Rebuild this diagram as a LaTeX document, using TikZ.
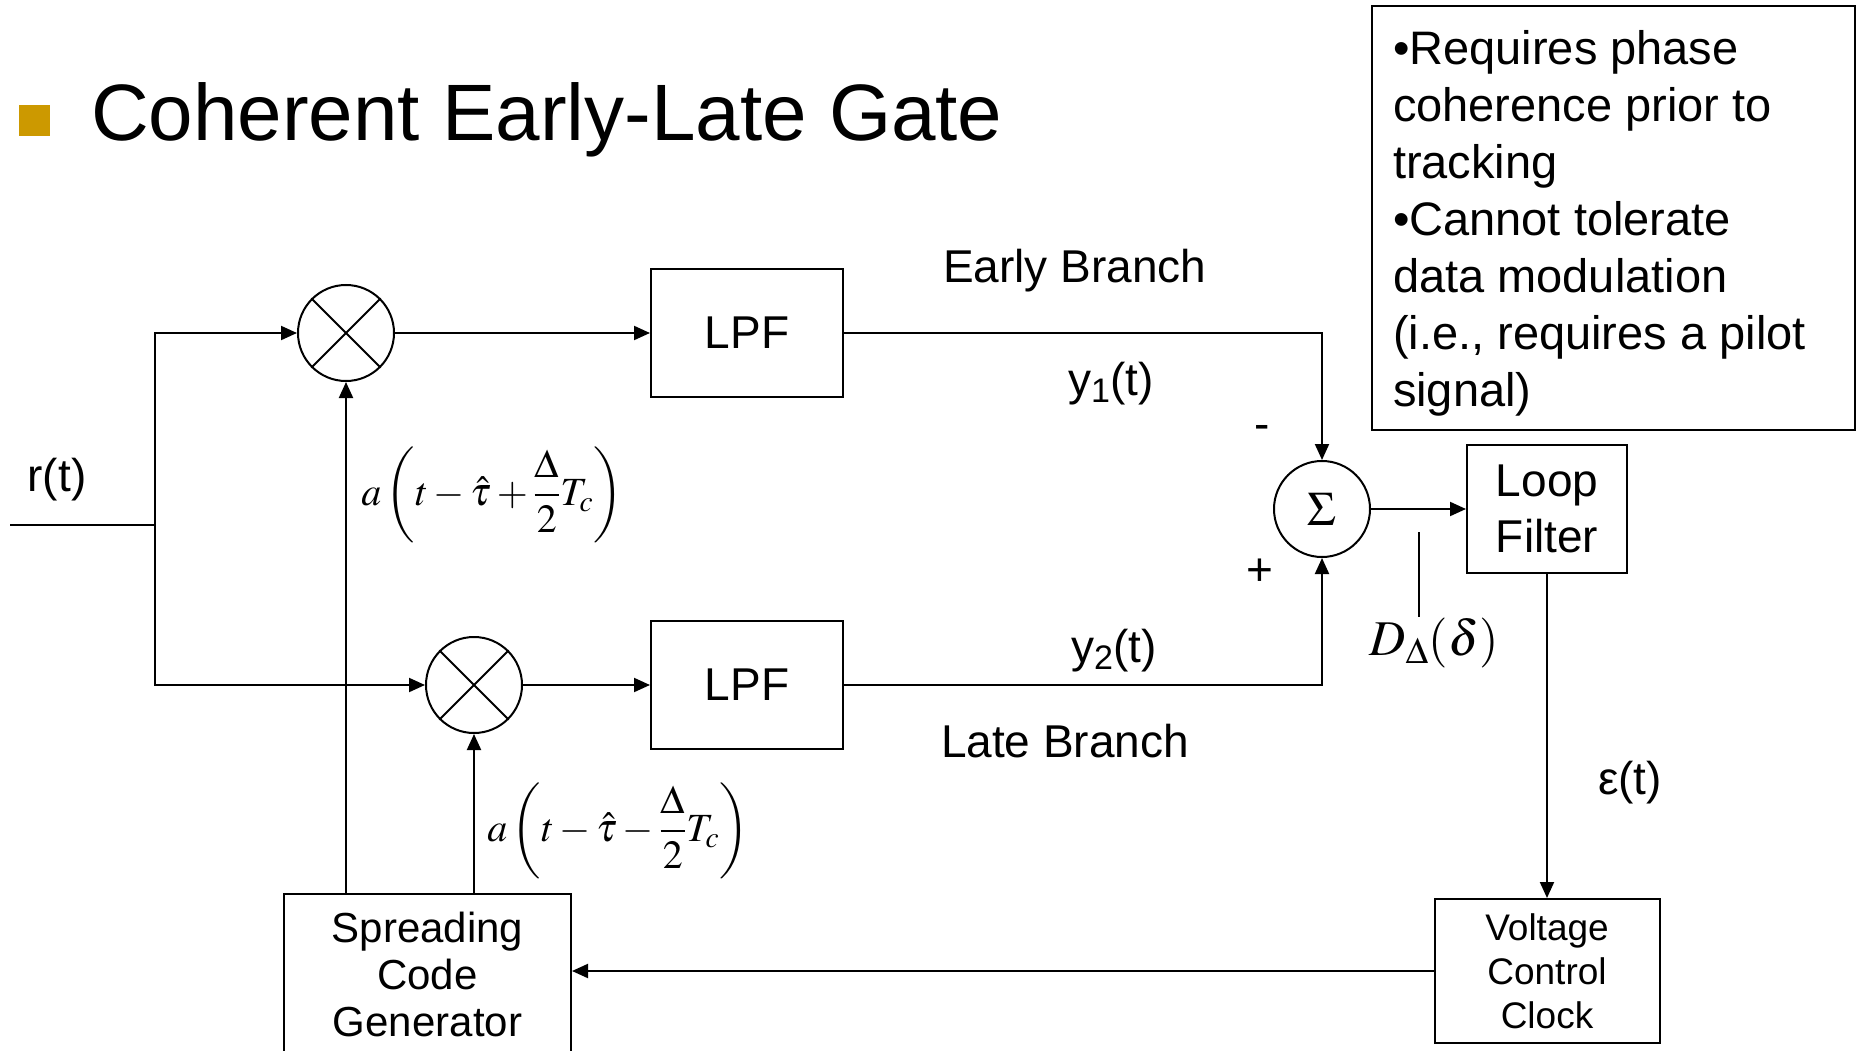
\documentclass[tikz,border=0pt]{standalone}
\usepackage{mathptmx}
\usepackage[no-math]{fontspec}
\setmainfont{Liberation Sans}
\usetikzlibrary{arrows.meta,calc}
\definecolor{bulletgold}{HTML}{CC9900}
\begin{document}
\begin{tikzpicture}[x=1pt,y=-1pt,line width=2pt,
  blk/.style={draw,line width=2pt,rectangle,inner sep=0pt,font=\fontsize{46}{56}\selectfont,align=center},
  mult/.style={draw,line width=2pt,circle,minimum size=96pt,inner sep=0pt},
  arr/.style={-{Triangle[length=16pt,width=14pt]}},
  lbl/.style={font=\fontsize{46}{56}\selectfont,inner sep=0pt},
  expr/.style={font=\fontsize{40}{48}\selectfont,inner sep=0pt}]
\useasboundingbox (0,0) rectangle (1858,1051);
\fill[white] (0,0) rectangle (1858,1051);
% title
\fill[bulletgold] (19,105) rectangle (50,136);
\node[anchor=base west,inner sep=0pt,font=\fontsize{80}{96}\selectfont] (title) at (90,141) {Coherent Early-Late Gate};
% note
\node[draw,line width=2pt,minimum width=483pt,minimum height=424pt,anchor=north west,inner sep=0pt] (note) at (1371,5) {};
\node[anchor=north west,inner sep=0pt,align=left,font=\fontsize{47}{57}\selectfont] (notetext) at (1392,29) {•Requires phase\\coherence prior to\\tracking\\•Cannot tolerate\\data modulation\\(i.e., requires a pilot\\signal)};
% blocks
\node[mult] (m1) at (346,333) {};
\draw (m1.135) -- (m1.-45) (m1.45) -- (m1.-135);
\node[mult] (m2) at (474,685) {};
\draw (m2.135) -- (m2.-45) (m2.45) -- (m2.-135);
\node[blk,minimum width=192pt,minimum height=128pt] (lpf1) at (747,333) {LPF};
\node[blk,minimum width=192pt,minimum height=128pt] (lpf2) at (747,685) {LPF};
\node[mult,font=\fontsize{48}{48}\selectfont] (sum) at (1322,509) {$\Sigma$};
\node[blk,minimum width=160pt,minimum height=128pt] (lf) at (1547,509) {Loop\\Filter};
\node[blk,minimum width=225pt,minimum height=144pt,font=\fontsize{37}{44}\selectfont] (vcc) at (1547,971) {Voltage\\Control\\Clock};
\node[blk,minimum width=287pt,minimum height=160pt,font=\fontsize{42}{47}\selectfont] (scg) at (427.5,974) {Spreading\\Code\\Generator};
% input
\coordinate (inp) at (10,525);
\coordinate (j) at (155,525);
\node[lbl] (rt) at (57,480) {r(t)};
\draw (inp) -- (j);
\draw[arr] (j) |- (m1.west);
\draw[arr] (j) |- (m2.west);
% branches
\draw[arr] (m1.east) -- (lpf1.west);
\draw[arr] (m2.east) -- (lpf2.west);
\draw[arr] (lpf1.east) -| (sum.north);
\draw[arr] (lpf2.east) -| (sum.south);
\draw[arr] (sum.east) -- (lf.west);
\draw[arr] (lf.south) -- (vcc.north);
\draw[arr] (vcc.west) -- (vcc.west -| scg.east);
\draw[arr] (m1.south |- scg.north) -- (m1.south);
\draw[arr] (m2.south |- scg.north) -- (m2.south);
% labels
\node[lbl,anchor=base west] (early) at (942,282) {Early Branch};
\node[lbl,anchor=base west] (late) at (940,757) {Late Branch};
\node[lbl,anchor=base west] (y1) at (1067,395) {y\textsubscript{1}(t)};
\node[lbl,anchor=base west] (y2) at (1070,662) {y\textsubscript{2}(t)};
\node[lbl] (minus) at (1262,432) {-};
\node[lbl] (plus) at (1260,572) {+};
\node[lbl] (eps) at (1630,783) {ε(t)};
\node[font=\fontsize{50}{50}\selectfont,inner sep=0pt] (dd) at (1434,643) {$D_{\Delta}(\delta)$};
\coordinate (dtick) at (1419,532);
\draw (dtick) -- (dtick |- dd.north);
\node[expr] (e1) at (492,495) {$a\left(t-\hat{\tau}+{\displaystyle\frac{\Delta}{2}}T_c\right)$};
\node[expr] (e2) at (618,831) {$a\left(t-\hat{\tau}-{\displaystyle\frac{\Delta}{2}}T_c\right)$};
\end{tikzpicture}
\end{document}
